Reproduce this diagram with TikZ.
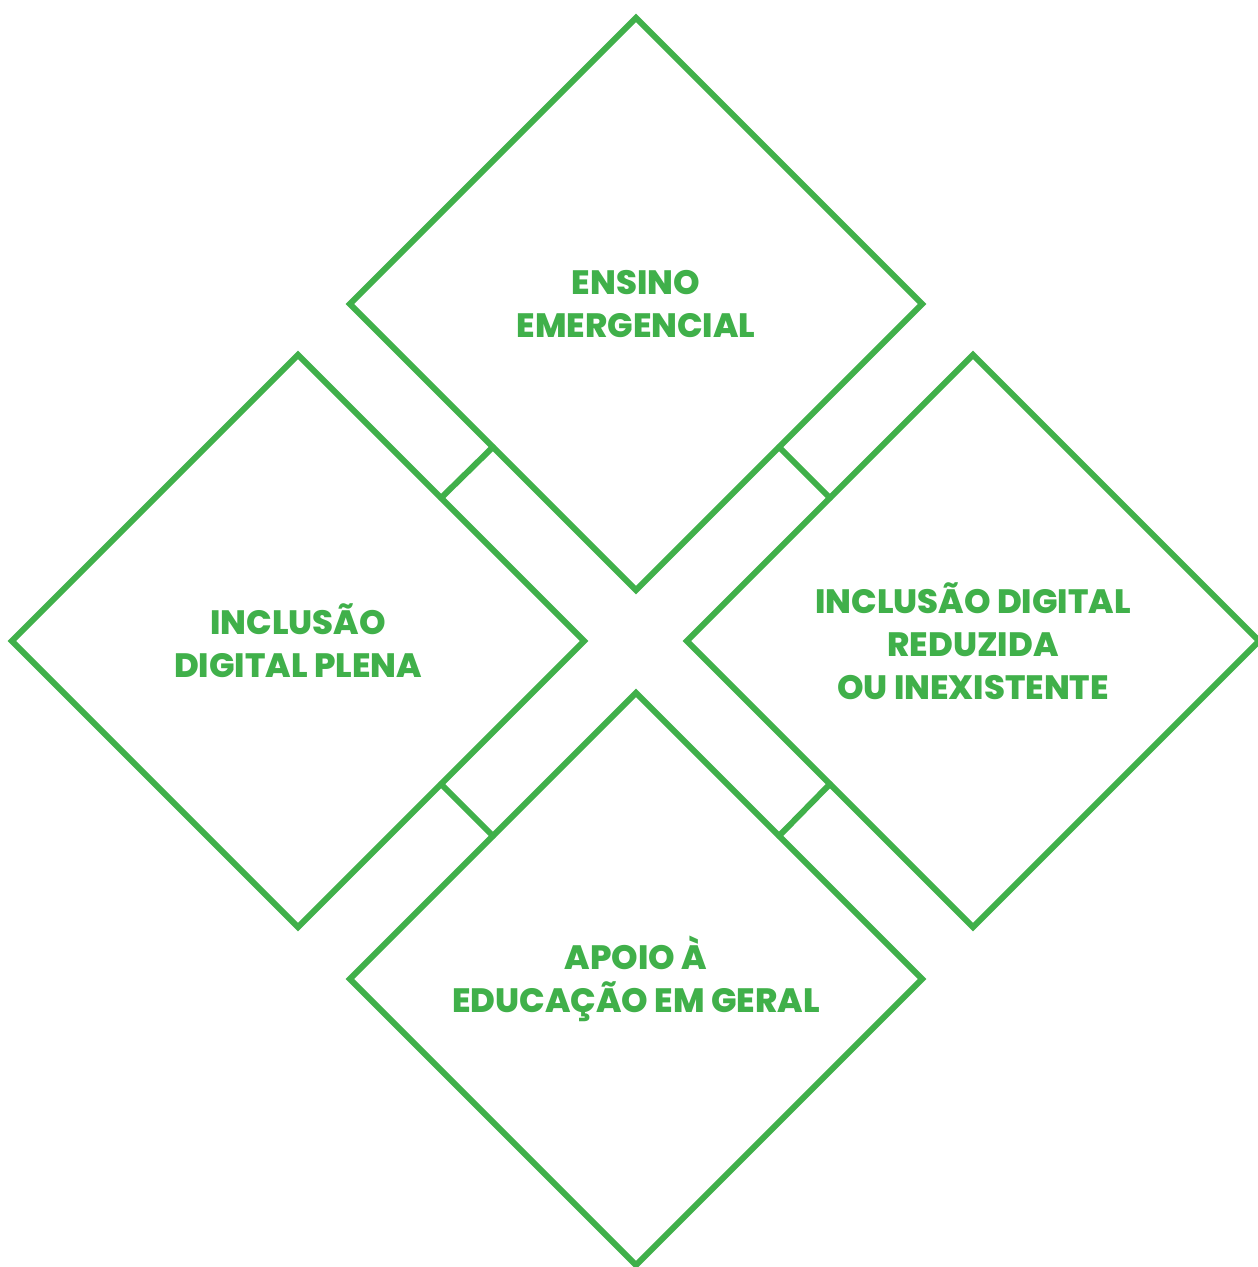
\documentclass[tikz,border=0pt]{standalone}
\usepackage{fontspec}
\setmainfont{Poppins}[BoldFont={Poppins ExtraBold}]
\usepackage{tikz}
\usetikzlibrary{shapes.geometric}
\definecolor{verde}{RGB}{64,176,74}

\begin{document}
\begin{tikzpicture}[line cap=round,line join=miter,x=0.01cm,y=-0.01cm, losango/.style={diamond, draw=verde, line width=1.7pt, minimum size=5.72cm, aspect=1, inner sep=0pt, outer sep=0pt, align=center, text=verde, font=\fontsize{9.6}{12.2}\selectfont\bfseries}, elo/.style={draw=verde, line width=1.7pt}]
                    \useasboundingbox (0,0) rectangle (1257,1267);

                    \node [losango] (ensino) at (636,304) {ENSINO\\EMERGENCIAL};
                    \node [losango] (plena) at (298,641) {INCLUSÃO\\DIGITAL PLENA};
                    \node [losango] (reduzida) at (973,641) {INCLUSÃO DIGITAL\\REDUZIDA\\OU INEXISTENTE};
                    \node [losango] (apoio) at (636,979) {APOIO À\\EDUCAÇÃO EM GERAL};

                    \draw [elo] (plena.north east) -- (ensino.south west);
                    \draw [elo] (ensino.south east) -- (reduzida.north west);
                    \draw [elo] (plena.south east) -- (apoio.north west);
                    \draw [elo] (apoio.north east) -- (reduzida.south west);
                \end{tikzpicture}
\end{document}
